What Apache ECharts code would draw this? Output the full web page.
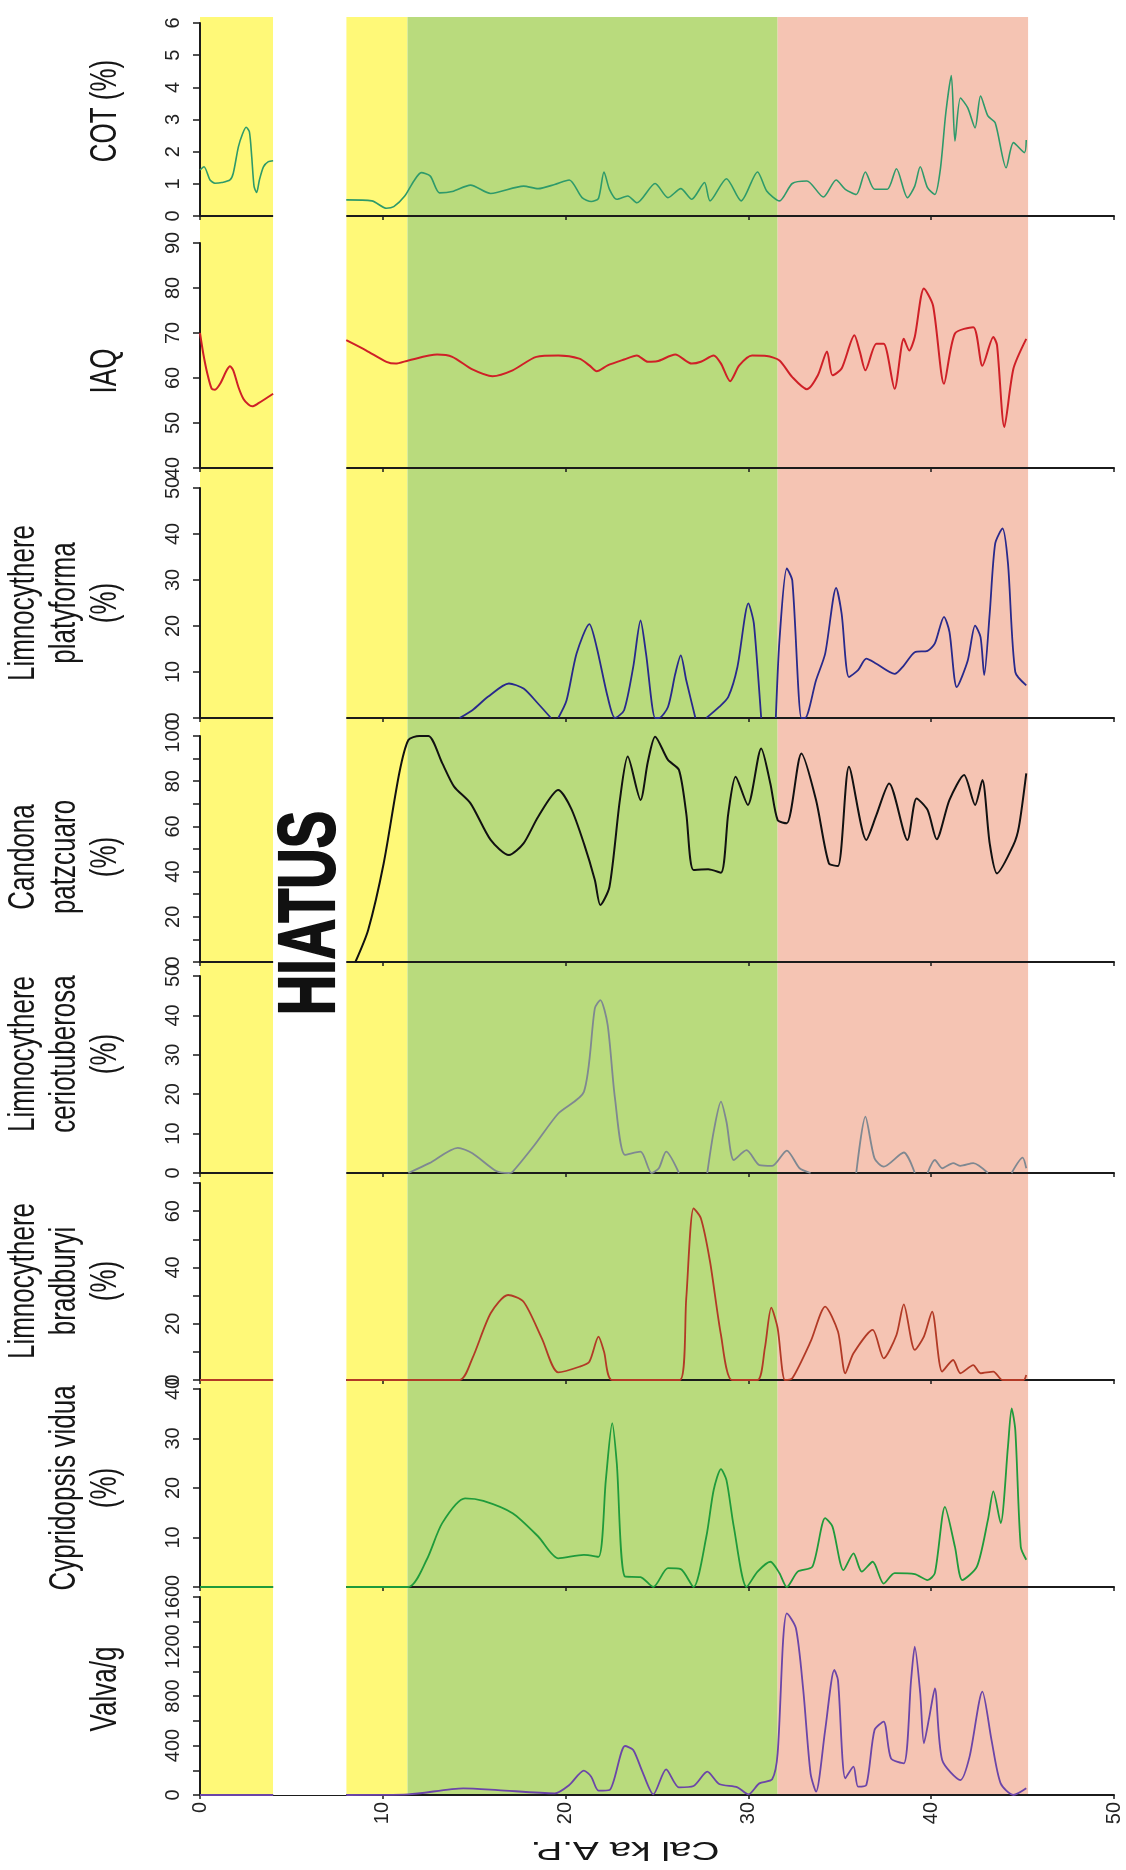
<!DOCTYPE html>
<html>
<head>
<meta charset="utf-8">
<script src="https://cdn.jsdelivr.net/npm/echarts/dist/echarts.min.js"></script>
<style>
html,body{margin:0;padding:0;background:#fff;}
#chart{width:1126px;height:1870px;}
</style>
</head>
<body>
<div id="chart"></div>
<script>
// ---------------- DATA (age in cal ka A.P.) ----------------
const xTicks = [0, 10, 20, 30, 40, 50];

const bandStarts = [0, 8, 11.35, 31.6];
const bandEnds   = [4, 11.35, 31.6, 45.3];
const hiatusStart = 4;
const hiatusEnd = 8;

const cotAge = [0,0.22,0.55,0.82,1.19,1.64,1.82,2.1,2.34,2.52,2.7,2.83,2.96,3.1,3.25,3.47,3.74,4.0,6,
  8.0,9.4,10.2,10.6,11.2,11.7,12.1,12.6,13.1,13.8,14.8,15.9,17.7,18.5,19.4,20.2,20.9,21.4,21.8,22.1,
  22.4,22.8,23.4,23.9,24.9,25.6,26.3,26.9,27.6,27.9,28.8,29.6,30.5,31.0,31.7,32.4,33.2,34.1,34.8,35.3,
  35.9,36.4,36.9,37.6,38.1,38.7,39.1,39.4,39.8,40.2,40.5,40.8,41.1,41.3,41.6,42.0,42.4,42.7,43.1,43.5,
  44.1,44.5,45.1,45.2];
const cotValue = [1.43,1.53,1.12,1.02,1.04,1.12,1.33,2.15,2.57,2.76,2.62,1.84,0.91,0.73,1.12,1.53,1.69,1.72,null,
  0.5,0.47,0.24,0.29,0.62,1.09,1.35,1.24,0.72,0.76,0.96,0.70,0.93,0.85,0.98,1.12,0.57,0.45,0.55,1.37,
  0.83,0.52,0.62,0.41,1.01,0.57,0.85,0.52,1.04,0.47,1.16,0.47,1.37,0.78,0.47,1.01,1.09,0.59,1.12,0.83,
  0.67,1.37,0.83,0.83,1.47,0.57,0.93,1.53,0.88,0.67,1.45,3.21,4.37,2.33,3.67,3.36,2.74,3.73,3.11,2.9,
  1.5,2.28,1.97,2.36];

const iaqAge = [0,0.18,0.4,0.64,0.82,1.1,1.46,1.64,1.82,2.1,2.37,2.65,2.86,3.2,4.0,6,
  8.0,9.1,10.2,10.7,11.4,12.97,13.8,14.9,16.0,17.1,18.4,19.6,20.75,21.3,21.7,22.3,23.2,23.9,24.5,25.0,
  26.0,26.9,27.4,28.1,28.5,29.0,29.5,30.2,31.0,31.7,32.4,33.2,33.8,34.3,34.6,35.1,35.8,36.1,36.4,37.0,
  37.4,38.0,38.5,38.8,39.1,39.6,40.1,40.7,41.3,42.3,42.8,43.4,43.6,44.0,44.5,45.2];
const iaqValue = [70,65.4,61,57.6,57.4,58.7,61.7,62.6,61.7,58,55.4,54.1,53.7,54.4,56.5,null,
  68.4,66.1,63.6,63.2,63.9,65.2,64.7,61.9,60.4,61.7,64.7,65.0,64.3,62.8,61.5,62.8,64.1,65,63.6,63.7,
  65.2,63.2,63.6,65,63.2,59.3,62.8,65,64.9,63.9,60.2,57.5,60.6,65.9,60.6,62.1,69.5,65.8,61.7,67.6,
  67.6,57.6,68.7,66.1,69.1,79.9,76.1,58.7,69.9,71.3,62.7,69.1,67.3,49.1,62.1,68.7];

const platyAge = [14.2,14.9,15.75,16.9,17.7,18.5,19.2,19.4,19.6,20.05,20.6,21.3,21.7,22.3,22.7,23.2,23.7,24.1,24.4,24.9,
  25.1,25.6,26.0,26.3,26.6,27.1,27.4,27.7,28.4,28.9,29.4,30.0,30.3,30.7,31.1,31.5,31.7,32.1,32.4,32.9,
  33.1,33.7,34.2,34.8,35.1,35.5,36.0,36.45,37.0,38.0,38.5,39.1,39.8,40.2,40.7,41.0,41.4,42.0,42.4,42.7,
  42.9,43.2,43.5,43.9,44.2,44.6,45.2];
const platyValue = [0,1.7,4.6,7.5,6.4,3.1,0,null,0,3.8,14,20.4,15.4,4.6,0,1.7,11.1,21.2,14,0,
  0,2.4,9.6,13.6,8.2,0,null,0,2.4,4.6,11.1,24.9,20.5,0,null,0,16.9,32.5,29.9,0,
  0,8.2,14,28.3,22.7,8.9,10.4,12.9,11.8,9.6,11.4,14.3,14.6,16.2,22,18.7,6.7,12.5,20.1,17.6,
  9.3,22.7,37.9,41.2,33.6,10,7.1];

const candonaAge = [8.5,9.2,10.05,10.9,11.4,12.0,12.5,13.25,13.9,14.8,15.9,16.9,17.7,18.5,19.6,20.3,21.0,21.6,21.9,22.4,
  22.97,23.4,24.1,24.5,24.9,25.6,26.2,26.6,27.0,27.8,28.5,28.9,29.3,29.97,30.7,31.2,31.6,32.1,32.9,33.7,
  34.4,34.9,35.5,36.45,37.0,37.7,38.7,39.2,39.8,40.3,41.0,41.8,42.4,42.8,43.2,43.6,44.5,44.8,45.2];
const candonaValue = [0,14.2,43.7,83.5,98.2,100,100,88,77.6,70.2,54,47.3,52.5,64.3,76.1,68,52.5,36.3,25.2,33.3,
  71.7,90.9,71.7,88.6,99.7,89.4,85,65.8,40.7,41,39.5,65.8,82,69.5,94.5,79,62.8,61.4,92.3,71.7,
  43.7,42.5,86.4,54,65,79,54,72.4,67.3,54.3,71.7,82.7,69.5,80.5,52.5,39.2,51.8,59.9,83.5];

const cerioAge = [11.4,12.55,14.1,14.9,16.2,16.9,17.1,18.3,19.6,21.0,21.6,21.9,22.3,22.7,23.25,24.1,24.7,25.1,25.5,26.2,
  27.0,27.75,28.1,28.5,28.8,29.2,29.9,30.6,31.3,32.1,32.8,33.4,34.6,35.9,36.4,36.9,37.4,38.5,39.1,39.45,
  39.8,40.2,40.6,41.2,41.6,42.3,43.1,43.7,44.4,45.0,45.2];
const cerioValue = [0,2.5,6.4,5,0.5,0,0.3,7.1,15.1,20.6,41.8,43.9,37.6,19,4.6,5.4,0,1.2,5.4,0,
  null,0,10.5,18.1,13,3.3,5.8,2,1.8,5.7,1.2,0,null,0,14.3,3.7,1.6,5.2,0,null,
  0,3.3,1.2,2.5,1.8,2.5,0,null,0,3.9,1.2];

const bradAge = [0,4,6,8,14.2,14.9,15.9,16.85,17.7,18.7,19.6,20.75,21.3,21.8,22.1,22.55,26.25,26.6,27.0,27.4,
  27.9,28.5,29.1,30.5,30.9,31.25,31.6,32.0,32.4,33.4,34.2,34.9,35.3,35.75,36.8,37.4,38.1,38.5,39.1,39.6,
  40.05,40.6,41.2,41.6,42.3,42.7,43.4,43.9,45.05,45.2];
const bradValue = [0,0,null,0,0,7.7,23.7,30.2,27.8,14.8,2.7,4.7,6.5,15.4,10.1,0,0,29,61,57.5,
  42.1,16,0,0,11.3,25.7,18.4,0,0.6,13.6,26.1,17.2,2.4,9.5,17.8,7.7,16,26.9,10.7,15.4,
  24.3,3,7.1,2.4,5.3,2.4,3,0,0,1.8];

const cypAge = [0,4,6,8,11.4,12.4,13.25,14.5,15.5,17.1,18.5,19.6,21.0,21.8,22.2,22.55,22.8,23.25,24.1,24.8,
  25.6,26.3,27.0,27.7,28.1,28.5,28.8,29.2,29.9,30.5,31.2,31.7,32.1,32.7,33.5,34.2,34.6,35.2,35.75,36.2,
  36.8,37.4,38.0,39.1,39.8,40.2,40.75,41.3,41.7,42.5,43.1,43.4,43.8,44.2,44.4,44.6,44.9,45.2];
const cypValue = [0,0,null,0,0,5.5,12.9,17.9,17.4,14.9,10.2,5.8,6.5,6.1,21.6,33.1,25,2.1,2,0,
  3.8,3.6,0,10.2,19.6,23.8,21.6,12.2,0,3.1,5.1,2.8,0,3.1,4.1,13.9,12.2,3.4,6.8,3.1,
  5.1,0.7,2.8,2.6,1.4,2.8,16.2,8.1,1.4,4.1,13.5,19.3,12.9,28.4,36.1,31.7,8.1,5.5];

const valvaAge = [0,4,6,8,11.4,14.4,16.3,19.4,20.2,21.0,21.4,21.8,22.4,23.25,23.7,24.2,24.8,25.5,26.2,27.0,
  27.75,28.4,29.4,30.0,30.6,31.3,31.6,31.9,32.1,32.6,33.0,33.4,33.7,34.2,34.7,34.9,35.3,35.75,36.0,36.45,
  36.9,37.4,37.8,38.5,38.9,39.1,39.4,39.6,39.9,40.2,40.6,41.6,42.1,42.8,43.3,43.8,44.5,45.2];
const valvaValue = [0,0,null,0,5,54,40,13,81,197,148,35,40,396,364,189,5,207,62,73,
  189,89,62,5,94,127,337,1253,1468,1347,849,175,27,525,1010,929,135,229,67,81,
  525,593,296,256,929,1199,822,418,633,862,283,121,310,835,444,94,0,54];

const panelTitles = [
  ['COT (%)'],
  ['IAQ'],
  ['Limnocythere', 'platyforma', '(%)'],
  ['Candona', 'patzcuaro', '(%)'],
  ['Limnocythere', 'ceriotuberosa', '(%)'],
  ['Limnocythere', 'bradburyi', '(%)'],
  ['Cypridopsis vidua', '(%)'],
  ['Valva/g']
];
const axisMin = [0, 40, 0, 0, 0, 0, 0, 0];
const axisMax = [6, 90, 50, 100, 50, 70, 40, 1600];
const axisStep = [1, 10, 10, 10, 10, 10, 10, 200];
const labelStep = [1, 10, 10, 20, 10, 20, 10, 400];
const xTitle = 'Cal ka A.P.';
const hiatusText = 'HIATUS';

// ---------------- LAYOUT / STYLE ----------------
const seriesAges = [cotAge, iaqAge, platyAge, candonaAge, cerioAge, bradAge, cypAge, valvaAge];
const seriesValues = [cotValue, iaqValue, platyValue, candonaValue, cerioValue, bradValue, cypValue, valvaValue];
const colors = ['#2e9a6a', '#cf2027', '#28298c', '#111111', '#7f8891', '#b23a26', '#1f9b3b', '#6b45a8'];
const widths = [1.6, 2, 1.8, 2, 1.8, 1.8, 1.8, 1.8];
const tops = [23, 243, 488, 736, 976, 1183, 1389, 1597];
const heights = [193, 225, 230, 226, 197, 197, 198, 198];
const titleCenterY = [111, 371, 603, 857, 1054, 1281, 1488, 1689];
const bandColors = ['#fff978', '#fff978', '#b9db7d', '#f5c4b3'];
const LEFT = 200, RIGHT = 12;
const FONT = '"Liberation Sans Narrow", "Liberation Sans", Arial, sans-serif';

const grids = [], xAxes = [], yAxes = [], series = [];
for (let i = 0; i < 8; i++) {
  grids.push({ left: LEFT, right: RIGHT, top: tops[i], height: heights[i] });
  xAxes.push({
    type: 'value', gridIndex: i, min: xTicks[0], max: xTicks[xTicks.length - 1], interval: xTicks[1] - xTicks[0],
    z: 3,
    axisLine: { show: true, onZero: false, lineStyle: { color: '#1b1b1b', width: 2 } },
    axisTick: { show: true, length: 4, lineStyle: { color: '#1b1b1b', width: 1.5 } },
    axisLabel: { show: i === 7, rotate: 90, margin: 7, fontFamily: FONT, fontSize: 20, color: '#222' },
    splitLine: { show: false }
  });
  const step = labelStep[i];
  const hideZero = (i === 6);
  yAxes.push({
    type: 'value', gridIndex: i, min: axisMin[i], max: axisMax[i], interval: axisStep[i],
    z: 3,
    axisLine: { show: true, onZero: false, lineStyle: { color: '#1b1b1b', width: 2 } },
    axisTick: { show: true, length: 7, lineStyle: { color: '#1b1b1b', width: 1.5 } },
    axisLabel: {
      rotate: 90, margin: 17, fontFamily: FONT, fontSize: 20, color: '#222',
      showMinLabel: true, showMaxLabel: true,
      formatter: function (v) {
        if (hideZero && v === 0) return '';
        return (Math.round(v) % step === 0) ? String(Math.round(v)) : '';
      }
    },
    splitLine: { show: false }
  });
  const ages = seriesAges[i], vals = seriesValues[i];
  series.push({
    type: 'line', xAxisIndex: i, yAxisIndex: i, z: 5,
    data: ages.map((a, k) => [a, vals[k] === null ? '-' : vals[k]]),
    showSymbol: false, symbol: 'none', smooth: 0.25, connectNulls: false,
    lineStyle: { color: colors[i], width: widths[i] },
    itemStyle: { color: colors[i] },
    animation: false, silent: true
  });
}

// background band grid
grids.push({ left: LEFT, right: RIGHT, top: 17, bottom: 1870 - 1795 });
xAxes.push({ type: 'value', gridIndex: 8, min: 0, max: 50, show: false });
yAxes.push({ type: 'value', gridIndex: 8, min: 0, max: 1, show: false });
series.push({
  type: 'line', xAxisIndex: 8, yAxisIndex: 8, data: [], z: 1, silent: true, animation: false,
  markArea: {
    silent: true, z: 1,
    data: bandStarts.map((s, k) => [{ xAxis: s, itemStyle: { color: bandColors[k], opacity: 1 } }, { xAxis: bandEnds[k] }])
  }
});
series.push({
  type: 'line', xAxisIndex: 8, yAxisIndex: 8, data: [], z: 4, silent: true, animation: false,
  markArea: {
    silent: true, z: 4,
    data: [[{ xAxis: hiatusStart, itemStyle: { color: '#ffffff', opacity: 1 } }, { xAxis: hiatusEnd }]]
  }
});

// titles as rotated text
const graphics = [];
const titleRightX = 106, lineGap = 41;
panelTitles.forEach((lines, i) => {
  const n = lines.length;
  lines.forEach((t, j) => {
    graphics.push({
      type: 'text', x: titleRightX - (n - 1 - j) * lineGap, y: titleCenterY[i],
      rotation: Math.PI / 2, scaleX: 1, scaleY: 1.4, z: 10,
      style: { text: t, fontFamily: FONT, fontSize: 26, fill: '#161616',
               textAlign: 'center', textVerticalAlign: 'middle', align: 'center', verticalAlign: 'middle' }
    });
  });
});
graphics.push({
  type: 'text', x: 625, y: 1849, rotation: Math.PI, scaleX: 1.55, scaleY: 1, z: 10,
  style: { text: xTitle, fontFamily: '"Liberation Sans", Arial, sans-serif', fontSize: 25, fill: '#161616',
           textAlign: 'center', textVerticalAlign: 'middle', align: 'center', verticalAlign: 'middle' }
});
graphics.push({
  type: 'text', x: 312, y: 913, rotation: Math.PI / 2, scaleX: 1, scaleY: 1.42, z: 10,
  style: { text: hiatusText, fontFamily: FONT, fontWeight: 'bold', fontSize: 56, fill: '#111',
           stroke: '#111', lineWidth: 1.5,
           textAlign: 'center', textVerticalAlign: 'middle', align: 'center', verticalAlign: 'middle' }
});

const chart = echarts.init(document.getElementById('chart'), null, { renderer: 'canvas' });
chart.setOption({
  backgroundColor: '#ffffff',
  animation: false,
  grid: grids,
  xAxis: xAxes,
  yAxis: yAxes,
  series: series,
  graphic: { elements: graphics }
});
</script>
</body>
</html>
